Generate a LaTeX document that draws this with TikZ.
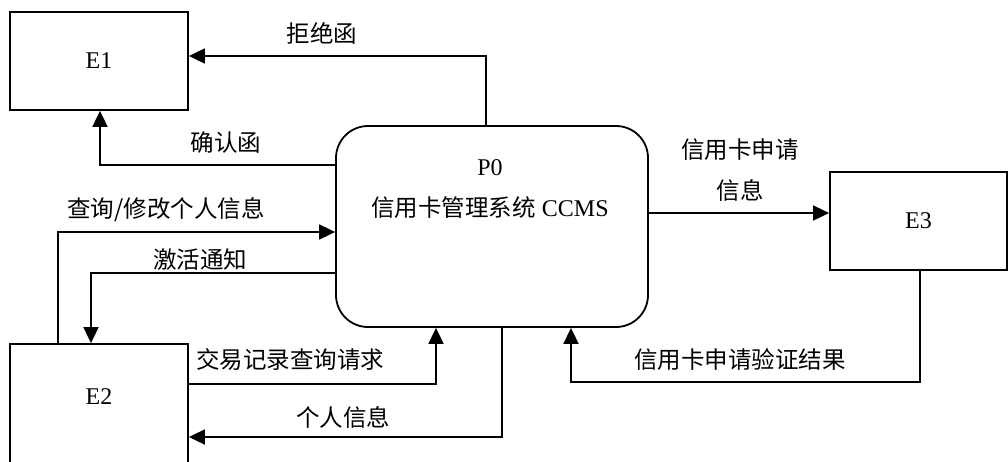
\documentclass[tikz,border=0pt]{standalone}
\usepackage{fontspec}
\setmainfont{Liberation Serif}
\newfontfamily\cjk{Noto Sans CJK SC}
\usetikzlibrary{arrows.meta}
\tikzset{
  box/.style={draw, line width=1.8pt, rectangle, inner sep=0pt, minimum width=178pt, minimum height=98pt, font=\fontsize{24}{28}\selectfont},
  proc/.style={draw, line width=1.8pt, rectangle, rounded corners=32pt, inner sep=0pt, minimum width=312pt, minimum height=201pt},
  arr/.style={line width=1.8pt, -{Triangle[length=16pt,width=15pt]}},
  lbl/.style={inner sep=0pt, font=\fontsize{23.5}{27}\selectfont\cjk},
}
\begin{document}
\begin{tikzpicture}[x=1pt,y=-1pt]
\useasboundingbox (0,0) rectangle (1008,461);
\clip (0,0) rectangle (1008,461);
\node[box] (E1) at (99,61) {E1};
\node[box, minimum height=160pt] (E2) at (99,424) {};
\node[font=\fontsize{24}{28}\selectfont] (E2t) at (99,397) {E2};
\node[box, minimum width=177pt] (E3) at (918.5,221) {E3};
\node[proc] (P0) at (492,226.5) {};
\node[font=\fontsize{24}{28}\selectfont, inner sep=0pt] (P0a) at (490,168) {P0};
\node[font=\fontsize{24}{28}\selectfont, inner sep=0pt] (P0b) at (490,208) {{\fontsize{23.5}{27}\selectfont\cjk 信用卡管理系统} CCMS};

\draw[arr] ([xshift=-6pt]P0.north) |- ([yshift=5pt]E1.east);
\draw[arr] ([yshift=61.5pt]P0.west) -| ([xshift=1pt]E1.south);
\draw[arr] ([xshift=-41pt]E2.north) |- ([yshift=-5.5pt]P0.west);
\draw[arr] ([yshift=-46.5pt]P0.west) -| ([xshift=-8pt]E2.north);
\draw[arr] ([yshift=40pt]E2.east) -| ([xshift=-56pt]P0.south);
\draw[arr] ([xshift=10pt]P0.south) |- ([yshift=-13pt]E2.east);
\draw[arr] ([yshift=13.5pt]P0.east) -- ([yshift=8pt]E3.west);
\draw[arr] ([xshift=1.5pt]E3.south) -- ++(0,111) -| ([xshift=79pt]P0.south);

\node[lbl] (l1) at (322,33) {拒绝函};
\node[lbl] (l2) at (226,143) {确认函};
\node[lbl] (l3) at (166,210) {查询/修改个人信息};
\node[lbl] (l4) at (200,260) {激活通知};
\node[lbl] (l5) at (290,360) {交易记录查询请求};
\node[lbl] (l6) at (343,417) {个人信息};
\node[lbl] (l7) at (740,150) {信用卡申请};
\node[lbl] (l8) at (740,190) {信息};
\node[lbl] (l9) at (740,360) {信用卡申请验证结果};
\end{tikzpicture}
\end{document}
